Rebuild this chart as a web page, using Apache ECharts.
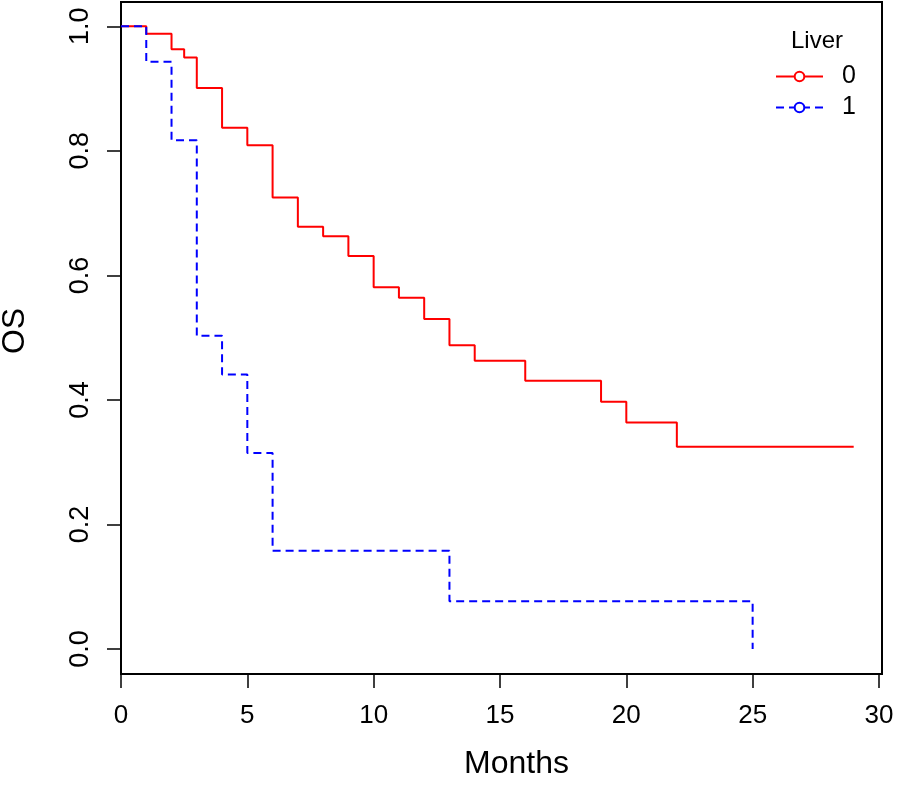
<!DOCTYPE html>
<html>
<head>
<meta charset="utf-8">
<script src="https://cdn.jsdelivr.net/npm/echarts@6/dist/echarts.min.js"></script>
<style>
  html, body { margin: 0; padding: 0; background: #fff; }
  #main { width: 898px; height: 787px; }
</style>
</head>
<body>
<div id="main"></div>
<script>
// KM steps (months, survival)
var liver0Time = [0, 1, 2, 2.5, 3, 4, 5, 6, 7, 8, 9, 10, 11, 12, 13, 14, 16, 19, 20, 22, 29];
var liver0Surv = [1, 0.988, 0.963, 0.950, 0.901, 0.837, 0.809, 0.725, 0.678, 0.663, 0.631,
                  0.581, 0.564, 0.530, 0.488, 0.463, 0.431, 0.397, 0.364, 0.325, 0.325];
var liver1Time = [0, 1, 2, 3, 4, 5, 6, 13, 25];
var liver1Surv = [1, 0.943, 0.817, 0.503, 0.441, 0.315, 0.158, 0.077, 0];

var xTicks = [0, 5, 10, 15, 20, 25, 30];
var yTicks = [0, 0.2, 0.4, 0.6, 0.8, 1.0];

function pairs(t, s) {
    var res = [];
    for (var i = 0; i < t.length; i++) {
        res.push([t[i], s[i]]);
    }
    return res;
}

var font = 'Liberation Sans, Arial, sans-serif';
var myChart = echarts.init(document.getElementById('main'));

var option = {
    backgroundColor: '#fff',
    animation: false,
    textStyle: { fontFamily: font },
    grid: {
        left: 121, right: 16, top: 2, bottom: 113,
        outerBoundsMode: 'none',
        containLabel: false,
        show: true,
        borderColor: '#000',
        borderWidth: 2
    },
    title: {
        text: 'Liver',
        left: 786, top: 24,
        textStyle: { fontFamily: font, fontSize: 24, fontWeight: 'normal', color: '#000' }
    },
    legend: {
        left: 770, top: 59,
        orient: 'vertical',
        itemWidth: 47,
        itemHeight: 12,
        itemGap: 6,
        data: ['0', '1'],
        textStyle: { fontFamily: font, fontSize: 25, color: '#000', padding: [0, 0, 0, 14] }
    },
    xAxis: {
        type: 'value',
        min: 0,
        max: 30.12,
        name: 'Months',
        nameLocation: 'middle',
        nameGap: 74,
        nameTextStyle: { fontFamily: font, fontSize: 32, color: '#000', padding: [0, 0, 0, 30] },
        axisLine: { show: false, onZero: false },
        splitLine: { show: false },
        axisTick: {
            show: true, length: 14, inside: false, customValues: xTicks,
            lineStyle: { color: '#000', width: 1.5 }
        },
        axisLabel: {
            customValues: xTicks, margin: 29,
            fontFamily: font, fontSize: 26, color: '#000'
        }
    },
    yAxis: {
        type: 'value',
        min: -0.04,
        max: 1.039,
        name: 'OS',
        nameLocation: 'middle',
        nameGap: 90,
        nameTextStyle: { fontFamily: font, fontSize: 32, color: '#000', padding: [0, 0, 0, 14] },
        axisLine: { show: false, onZero: false },
        splitLine: { show: false },
        axisTick: {
            show: true, length: 14, inside: false, customValues: yTicks,
            lineStyle: { color: '#000', width: 1.5 }
        },
        axisLabel: {
            customValues: yTicks, margin: 27, rotate: 90,
            fontFamily: font, fontSize: 27, color: '#000',
            formatter: function (v) { return v.toFixed(1); }
        }
    },
    series: [
        {
            name: '0',
            type: 'line',
            step: 'end',
            showSymbol: false,
            symbol: 'emptyCircle',
            symbolSize: 9,
            itemStyle: { color: '#ff0000' },
            lineStyle: { color: '#ff0000', width: 2 },
            data: pairs(liver0Time, liver0Surv)
        },
        {
            name: '1',
            type: 'line',
            step: 'end',
            showSymbol: false,
            symbol: 'emptyCircle',
            symbolSize: 9,
            itemStyle: { color: '#0000ff' },
            lineStyle: { color: '#0000ff', width: 2, type: [8, 5] },
            data: pairs(liver1Time, liver1Surv)
        }
    ]
};

myChart.setOption(option);
</script>
</body>
</html>
